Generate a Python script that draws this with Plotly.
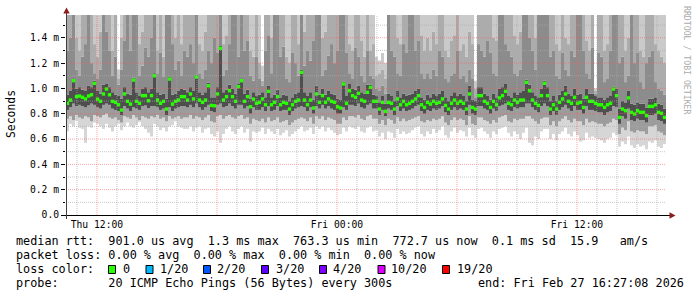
import pandas as pd
import plotly.graph_objects as go

START = pd.Timestamp("2026-02-26 10:27:08")
END = pd.Timestamp("2026-02-27 16:27:08")
STEP_MIN = 9

# median rtt per step (microseconds)
median_us = [
    882, 908, 1061, 935, 940, 930, 917, 940, 950, 1040, 915, 898, 956, 995, 950, 898, 890, 871, 829, 956,
    898, 876, 1066, 898, 882, 943, 943, 903, 943, 1100, 908, 882, 898, 837, 1074, 876, 898, 908, 935, 935,
    908, 956, 917, 1090, 908, 890, 908, 1021, 866, 863, 956, 1317, 908, 935, 982, 935, 898, 1014, 1061, 898,
    935, 855, 915, 882, 890, 917, 871, 977, 871, 890, 935, 871, 890, 882, 837, 871, 898, 908, 1127, 908,
    871, 908, 845, 956, 890, 943, 890, 917, 898, 890, 855, 845, 1035, 882, 982, 943, 930, 961, 908, 898,
    969, 1008, 898, 898, 837, 890, 819, 890, 882, 837, 917, 871, 898, 871, 882, 898, 917, 943, 871, 850,
    890, 876, 898, 882, 890, 917, 866, 837, 882, 908, 882, 898, 882, 837, 956, 850, 837, 943, 943, 898,
    882, 850, 898, 871, 925, 943, 977, 882, 871, 908, 890, 908, 908, 1048, 982, 908, 882, 866, 943, 1040,
    943, 837, 871, 837, 890, 917, 956, 898, 882, 930, 882, 890, 850, 930, 898, 898, 882, 871, 871, 850,
    871, 882, 995, 943, 771, 837, 824, 925, 811, 798, 824, 811, 811, 785, 858, 858, 871, 811, 803, 771,
]

# smoke: lowest ping
low_min = [
    660, 720, 700, 745, 690, 680, 570, 700, 690, 730, 720, 700, 680, 720, 690, 660, 700, 720, 670, 700,
    730, 700, 690, 710, 740, 700, 680, 650, 620, 720, 700, 670, 690, 660, 700, 710, 740, 700, 690, 680,
    680, 700, 660, 690, 700, 650, 680, 690, 640, 620, 660, 570, 640, 680, 700, 660, 640, 680, 700, 650,
    680, 580, 660, 650, 660, 690, 640, 680, 660, 640, 680, 630, 650, 670, 620, 640, 660, 680, 700, 660,
    670, 690, 640, 700, 680, 700, 660, 690, 670, 650, 630, 640, 690, 660, 700, 690, 680, 700, 660, 650,
    690, 700, 660, 670, 620, 650, 600, 660, 650, 610, 680, 640, 660, 640, 650, 670, 690, 700, 640, 620,
    660, 640, 680, 650, 670, 700, 630, 610, 660, 690, 650, 670, 660, 620, 690, 630, 610, 680, 690, 660,
    640, 610, 660, 640, 680, 690, 700, 650, 620, 660, 640, 600, 650, 690, 570, 550, 620, 600, 660, 680,
    680, 600, 640, 590, 640, 660, 690, 640, 620, 660, 630, 580, 590, 650, 610, 620, 610, 600, 590, 570,
    600, 610, 650, 630, 540, 580, 560, 620, 550, 530, 560, 540, 550, 520, 580, 570, 590, 540, 530, 560,
]

# smoke: lower quarter
mid_lo = [
    760, 780, 750, 790, 770, 760, 780, 770, 740, 790, 780, 770, 790, 800, 770, 760, 770, 750, 730, 780,
    770, 760, 790, 770, 750, 780, 770, 760, 780, 770, 790, 760, 770, 740, 780, 760, 770, 780, 760, 770,
    770, 790, 760, 780, 770, 750, 770, 790, 740, 730, 780, 790, 760, 780, 790, 770, 760, 780, 790, 760,
    770, 720, 760, 750, 740, 760, 730, 770, 740, 750, 770, 730, 740, 750, 710, 730, 750, 760, 770, 760,
    740, 770, 720, 780, 760, 780, 750, 770, 760, 750, 720, 720, 770, 750, 780, 780, 770, 790, 760, 750,
    780, 790, 760, 760, 720, 750, 710, 760, 750, 720, 770, 740, 760, 740, 750, 760, 770, 780, 740, 730,
    750, 740, 760, 750, 760, 780, 730, 710, 750, 770, 750, 760, 750, 710, 780, 720, 710, 770, 770, 750,
    740, 720, 750, 730, 770, 780, 790, 740, 730, 760, 750, 760, 760, 780, 780, 760, 740, 720, 760, 770,
    770, 710, 740, 700, 740, 760, 780, 750, 730, 760, 740, 740, 710, 760, 730, 740, 730, 720, 720, 700,
    720, 730, 760, 750, 640, 690, 670, 740, 660, 650, 670, 660, 660, 640, 700, 700, 710, 660, 650, 630,
]

# smoke: bottom of the dense core
dark_lo = [
    830, 850, 880, 860, 870, 860, 850, 865, 880, 870, 850, 840, 870, 880, 870, 840, 830, 820, 790, 860,
    840, 820, 850, 840, 830, 860, 865, 845, 860, 860, 850, 830, 840, 790, 850, 820, 840, 850, 860, 860,
    850, 870, 850, 880, 850, 830, 850, 870, 820, 810, 870, 880, 850, 860, 880, 860, 840, 870, 870, 840,
    860, 800, 850, 830, 830, 850, 820, 860, 820, 830, 860, 820, 830, 830, 790, 820, 840, 850, 860, 850,
    820, 850, 800, 860, 840, 870, 840, 860, 840, 830, 800, 800, 850, 830, 870, 870, 860, 880, 850, 840,
    870, 880, 840, 840, 790, 830, 780, 840, 830, 790, 860, 820, 840, 820, 830, 840, 860, 870, 820, 800,
    830, 820, 840, 830, 840, 860, 810, 790, 830, 850, 830, 840, 830, 790, 870, 800, 790, 860, 860, 840,
    830, 800, 840, 820, 860, 870, 880, 830, 820, 850, 840, 850, 850, 880, 880, 850, 830, 810, 860, 880,
    860, 790, 820, 790, 830, 850, 870, 840, 820, 860, 830, 830, 800, 860, 830, 830, 820, 810, 810, 790,
    810, 820, 860, 850, 720, 780, 760, 840, 750, 740, 760, 750, 750, 730, 790, 790, 800, 750, 740, 720,
]

# smoke: top of the dense core
dark_hi = [
    950, 980, 1080, 1000, 1010, 990, 980, 1020, 1010, 1060, 980, 960, 1030, 1040, 1010, 970, 950, 940, 920, 1010,
    960, 950, 1085, 970, 940, 1000, 1010, 970, 1000, 1120, 970, 950, 960, 920, 1095, 950, 960, 980, 1000, 990,
    970, 1010, 980, 1110, 970, 950, 970, 1045, 930, 930, 1010, 1335, 970, 990, 1030, 1000, 960, 1040, 1080, 960,
    990, 920, 970, 940, 950, 970, 930, 1020, 930, 950, 990, 930, 950, 940, 900, 930, 960, 970, 1150, 970,
    940, 970, 910, 1020, 950, 1000, 950, 980, 960, 950, 920, 910, 1055, 940, 1040, 1000, 990, 1020, 970, 960,
    1030, 1030, 950, 940, 890, 940, 880, 960, 940, 900, 980, 930, 960, 940, 950, 960, 980, 1000, 930, 910,
    950, 930, 960, 940, 960, 980, 930, 900, 940, 970, 940, 960, 940, 900, 1020, 910, 900, 1010, 1010, 960,
    940, 910, 960, 930, 1000, 1010, 1040, 940, 930, 970, 950, 970, 980, 1070, 1030, 970, 940, 930, 1000, 1060,
    1010, 900, 940, 900, 950, 980, 1020, 960, 940, 1000, 950, 960, 920, 1000, 960, 960, 940, 930, 930, 910,
    930, 940, 1015, 1000, 840, 900, 890, 980, 880, 870, 890, 880, 880, 850, 920, 920, 930, 880, 870, 840,
]

# smoke: upper pings (values of 1700 lie above the graph top)
up_a = [
    1300, 1400, 1700, 1150, 1100, 1250, 1350, 1700, 1200, 1120, 1080, 1150, 1700, 1450, 1300, 1100, 1250, 1030, 1150, 1380,
    1700, 1300, 1700, 1700, 1100, 1180, 1320, 1250, 1400, 1700, 1120, 1280, 1090, 1700, 1700, 1350, 1150, 1220, 1100, 1300,
    1250, 1350, 1200, 1700, 1120, 1080, 1150, 1300, 1200, 1400, 1280, 1700, 1100, 1150, 1350, 1700, 1700, 1250, 1700, 1300,
    1380, 1100, 1060, 1250, 1080, 1020, 1300, 1420, 1120, 1700, 1700, 1250, 1330, 1080, 1050, 1280, 1200, 1100, 1700, 1180,
    1300, 1220, 1380, 1700, 1700, 1100, 1150, 1260, 1350, 1200, 1300, 1700, 1700, 1280, 1120, 1080, 1320, 1250, 1100, 1050,
    1300, 1100, 1080, 1000, 980, 1020, 960, 1700, 1300, 1250, 1120, 1100, 1350, 1280, 1700, 1700, 1300, 1380, 1120, 1080,
    1120, 1080, 1150, 1100, 1300, 1250, 1080, 1050, 1100, 1120, 1300, 1080, 1100, 1050, 1150, 1080, 930, 1350, 1300, 1250,
    1380, 1280, 1120, 1100, 1700, 1700, 1350, 1300, 1250, 1120, 1100, 1150, 1700, 1700, 1400, 1300, 1150, 1700, 1700, 1700,
    1700, 1250, 1300, 1100, 1080, 1280, 1150, 1100, 1300, 1250, 1700, 1700, 1300, 1120, 1080, 1320, 960, 1280, 1250, 1050,
    1080, 1300, 1700, 1700, 1200, 1250, 1050, 1100, 1700, 1200, 1280, 1050, 1000, 1200, 1250, 1300, 1050, 1000, 980, 950,
]

up_b = [
    1700, 1700, 1700, 1400, 1300, 1700, 1700, 1700, 1700, 1350, 1250, 1450, 1700, 1700, 1700, 1300, 1700, 1080, 1400, 1700,
    1700, 1700, 1700, 1700, 1350, 1450, 1700, 1700, 1700, 1700, 1300, 1700, 1250, 1700, 1700, 1700, 1400, 1700, 1350, 1700,
    1700, 1700, 1700, 1700, 1350, 1300, 1450, 1700, 1700, 1700, 1700, 1700, 1350, 1420, 1700, 1700, 1700, 1700, 1700, 1700,
    1700, 1300, 1250, 1700, 1200, 1060, 1700, 1700, 1400, 1700, 1700, 1700, 1700, 1250, 1200, 1700, 1700, 1350, 1700, 1450,
    1700, 1700, 1700, 1700, 1700, 1400, 1450, 1700, 1700, 1700, 1700, 1700, 1700, 1700, 1350, 1300, 1700, 1700, 1380, 1250,
    1700, 1300, 1350, 1100, 1120, 1150, 1080, 1700, 1700, 1700, 1400, 1350, 1700, 1700, 1700, 1700, 1700, 1700, 1420, 1300,
    1400, 1300, 1450, 1350, 1700, 1700, 1300, 1250, 1380, 1420, 1700, 1300, 1350, 1250, 1450, 1350, 1000, 1700, 1700, 1700,
    1700, 1700, 1400, 1380, 1700, 1700, 1700, 1700, 1700, 1420, 1350, 1450, 1700, 1700, 1700, 1700, 1400, 1700, 1700, 1700,
    1700, 1700, 1700, 1350, 1300, 1700, 1400, 1350, 1700, 1700, 1700, 1700, 1700, 1380, 1300, 1700, 980, 1700, 1700, 1300,
    1350, 1700, 1700, 1700, 1700, 1700, 1300, 1400, 1700, 1700, 1700, 1300, 1250, 1700, 1700, 1700, 1350, 1300, 1250, 1200,
]

up_max = [
    1700, 1700, 1700, 1700, 1700, 1700, 1700, 1700, 1700, 1700, 1700, 1700, 1700, 1700, 1700, 1700, 1700, 1150, 1700, 1700,
    1700, 1700, 1700, 1700, 1700, 1700, 1700, 1700, 1700, 1700, 1700, 1700, 1700, 1700, 1700, 1700, 1700, 1700, 1700, 1700,
    1700, 1700, 1700, 1700, 1700, 1700, 1700, 1700, 1700, 1700, 1700, 1700, 1700, 1700, 1700, 1700, 1700, 1700, 1700, 1700,
    1700, 1700, 1700, 1700, 1700, 1180, 1700, 1700, 1700, 1700, 1700, 1700, 1700, 1700, 1700, 1700, 1700, 1700, 1700, 1700,
    1700, 1700, 1700, 1700, 1700, 1700, 1700, 1700, 1700, 1700, 1700, 1700, 1700, 1700, 1700, 1700, 1700, 1700, 1700, 1700,
    1700, 1700, 1700, 1250, 1220, 1280, 1200, 1700, 1700, 1700, 1700, 1700, 1700, 1700, 1700, 1700, 1700, 1700, 1700, 1700,
    1700, 1700, 1700, 1700, 1700, 1700, 1700, 1700, 1700, 1700, 1700, 1700, 1700, 1700, 1700, 1700, 1060, 1700, 1700, 1700,
    1700, 1700, 1700, 1700, 1700, 1700, 1700, 1700, 1700, 1700, 1700, 1700, 1700, 1700, 1700, 1700, 1700, 1700, 1700, 1700,
    1700, 1700, 1700, 1700, 1700, 1700, 1700, 1700, 1700, 1700, 1700, 1700, 1700, 1700, 1700, 1700, 1000, 1700, 1700, 1700,
    1700, 1700, 1700, 1700, 1700, 1700, 1700, 1700, 1700, 1700, 1700, 1700, 1700, 1700, 1700, 1700, 1700, 1700, 1700, 1700,
]

Y_TICKS = [0.0, 0.2, 0.4, 0.6, 0.8, 1.0, 1.2, 1.4]
Y_LABELS = ["0.0", "0.2 m", "0.4 m", "0.6 m", "0.8 m", "1.0 m", "1.2 m", "1.4 m"]
Y_MINOR = [0.1, 0.3, 0.5, 0.7, 0.9, 1.1, 1.3, 1.5]
X_TICKS = ["2026-02-26 12:00:00", "2026-02-27 00:00:00", "2026-02-27 12:00:00"]
X_LABELS = ["Thu 12:00", "Fri 00:00", "Fri 12:00"]

LOSS_LABELS = ["0", "1/20", "2/20", "3/20", "4/20", "10/20", "19/20"]
LOSS_COLORS = ["#26ff00", "#00b8ff", "#0059ff", "#5e00ff", "#7e00ff", "#dd00ff", "#ff0000"]

N = len(median_us)
for arr in (low_min, mid_lo, dark_lo, dark_hi, up_a, up_b, up_max):
    assert len(arr) == N, len(arr)

xs = [(START + pd.Timedelta(minutes=STEP_MIN * (i + 0.5))).strftime("%Y-%m-%d %H:%M:%S") for i in range(N)]
WIDTH_MS = STEP_MIN * 60 * 1000


def ms(a):
    return [v / 1000.0 for v in a]


bands = [
    (low_min, mid_lo, "#d6d6d6"),
    (mid_lo, dark_lo, "#9c9c9c"),
    (dark_lo, dark_hi, "#4e4e4e"),
    (dark_hi, up_a, "#8c8c8c"),
    (up_a, up_b, "#acacac"),
    (up_b, up_max, "#cacaca"),
]

fig = go.Figure()
for lo, hi, col in bands:
    fig.add_trace(go.Bar(
        x=xs, base=ms(lo), y=[(h - l) / 1000.0 for l, h in zip(lo, hi)],
        width=WIDTH_MS, marker=dict(color=col, line=dict(width=0)),
        hoverinfo="skip", showlegend=False))

fig.add_trace(go.Scatter(
    x=xs, y=ms(median_us), mode="markers",
    marker=dict(symbol="square", size=3.4, color=LOSS_COLORS[0], line=dict(width=0)),
    hoverinfo="skip", showlegend=False))

# pixel geometry of plot area
PL, PR, PT, PB = 66, 666, 15, 215


def px(x):
    return (x - PL) / (PR - PL)


def py(y):
    return (PB - y) / (PB - PT)


shapes = []
MINOR_COL = "rgba(170,170,170,0.65)"
MAJOR_COL = "rgba(255,90,90,0.55)"
DASH = "1px,1px"
for v in Y_MINOR:
    shapes.append(dict(type="line", xref="paper", yref="y", x0=0, x1=1, y0=v, y1=v,
                       line=dict(color=MINOR_COL, width=1, dash=DASH), layer="above"))
for v in Y_TICKS[1:]:
    shapes.append(dict(type="line", xref="paper", yref="y", x0=0, x1=1, y0=v, y1=v,
                       line=dict(color=MAJOR_COL, width=1, dash=DASH), layer="above"))
for h in pd.date_range("2026-02-26 11:00", "2026-02-27 16:00", freq="h"):
    col = MAJOR_COL if h.hour % 6 == 0 else MINOR_COL
    shapes.append(dict(type="line", xref="x", yref="paper",
                       x0=h.strftime("%Y-%m-%d %H:%M:%S"), x1=h.strftime("%Y-%m-%d %H:%M:%S"),
                       y0=0, y1=1, line=dict(color=col, width=1, dash=DASH), layer="above"))

# axes lines and arrows
shapes.append(dict(type="line", xref="paper", yref="paper", x0=px(62), x1=px(670),
                   y0=py(215.5), y1=py(215.5), line=dict(color="#000000", width=1), layer="above"))
shapes.append(dict(type="line", xref="paper", yref="paper", x0=px(66.5), x1=px(66.5),
                   y0=py(219), y1=py(12), line=dict(color="#404040", width=1), layer="above"))
ARROW = "#8b1c1c"
shapes.append(dict(type="path", xref="paper", yref="paper",
                   path=f"M {px(66.5)},{py(7.5)} L {px(63.3)},{py(13.5)} L {px(69.7)},{py(13.5)} Z",
                   fillcolor=ARROW, line=dict(width=0), layer="above"))
shapes.append(dict(type="path", xref="paper", yref="paper",
                   path=f"M {px(675.5)},{py(215.5)} L {px(669.5)},{py(212.3)} L {px(669.5)},{py(218.7)} Z",
                   fillcolor=ARROW, line=dict(width=0), layer="above"))

# legend boxes
BOX_X = [108.5, 146, 203.5, 261.5, 319.5, 378, 442.5]
LAB_X = [123, 160, 217, 276, 333.3, 390.7, 456.7]
for bx, c in zip(BOX_X, LOSS_COLORS):
    shapes.append(dict(type="rect", xref="paper", yref="paper",
                       x0=px(bx), x1=px(bx + 7), y0=py(273.5), y1=py(265.5),
                       fillcolor=c, line=dict(color="#000000", width=1)))

NB = "\u00a0"
FS = 11.8
FONT = "DejaVu Sans Mono"


def ann(text, x, y, xanchor="left", size=FS, color="#000000", angle=0):
    return dict(text=text.replace(" ", NB), xref="paper", yref="paper", x=px(x), y=py(y),
                xanchor=xanchor, yanchor="middle", showarrow=False, textangle=angle,
                font=dict(family=FONT, size=size, color=color), borderpad=0, borderwidth=0)


annotations = [
    ann("median rtt:  901.0 us avg  1.3 ms max  763.3 us min  772.7 us now  0.1 ms sd  15.9   am/s", 16, 241),
    ann("packet loss: 0.00 % avg  0.00 % max  0.00 % min  0.00 % now", 16, 255),
    ann("loss color:", 16, 269),
    ann("probe:       20 ICMP Echo Pings (56 Bytes) every 300s", 16, 283),
    ann("end: Fri Feb 27 16:27:08 2026", 478, 283),
    ann("Seconds", 11, 114, xanchor="center", size=11.4, angle=-90),
    ann("RRDTOOL / TOBI OETIKER", 687, 60, xanchor="center", size=8.2, color="#ababab", angle=90),
]
for lx, lab in zip(LAB_X, LOSS_LABELS):
    annotations.append(ann(lab, lx, 269))

fig.update_layout(
    width=697, height=297, autosize=False,
    margin=dict(l=PL, r=697 - PR, t=PT, b=297 - PB, pad=0),
    paper_bgcolor="#ffffff", plot_bgcolor="#ffffff",
    barmode="overlay", showlegend=False,
    font=dict(family=FONT, color="#000000"),
    shapes=shapes, annotations=annotations,
    xaxis=dict(type="date", range=[START.strftime("%Y-%m-%d %H:%M:%S"), END.strftime("%Y-%m-%d %H:%M:%S")],
               tickmode="array", tickvals=X_TICKS, ticktext=X_LABELS, showgrid=False,
               zeroline=False, showline=False, ticks="", ticklabelstandoff=2,
               tickfont=dict(size=9.7, family=FONT)),
    yaxis=dict(range=[0, 1.58], tickmode="array", tickvals=Y_TICKS, ticktext=Y_LABELS,
               showgrid=False, zeroline=False, showline=False, ticks="outside", ticklen=4,
               tickcolor="#000000", tickwidth=1, tickfont=dict(size=9.7, family=FONT),
               minor=dict(tickvals=Y_MINOR, ticks="outside", ticklen=2, tickcolor="#000000")),
)

fig.write_html("out.html")
